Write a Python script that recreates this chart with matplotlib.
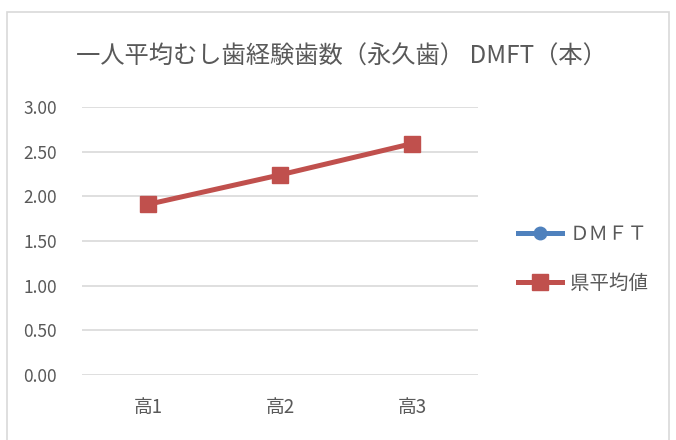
import numpy as np
import matplotlib.pyplot as plt
from matplotlib.patches import Rectangle

plt.rcParams['font.family'] = ['Noto Sans CJK JP', 'DejaVu Sans']

# data
categories = ["高1", "高2", "高3"]
dmft = [np.nan, np.nan, np.nan]          # no values shown in the chart
pref_avg = [1.91, 2.24, 2.59]
y_ticks = [0.0, 0.5, 1.0, 1.5, 2.0, 2.5, 3.0]

title = "一人平均むし歯経験歯数（永久歯） DMFT（本）"
text_color = "#595959"
grid_color = "#d9d9d9"

fig = plt.figure(figsize=(6.76, 4.40), dpi=100)
ax = fig.add_axes([82 / 676, 65 / 440, 396 / 676, 268 / 440])

x = np.arange(len(categories))
ax.plot(x, dmft, color="#4f81bd", lw=3.6, marker="o", ms=9, label="ＤＭＦＴ")
ax.plot(x, pref_avg, color="#c0504d", lw=3.6, marker="s", ms=11, label="県平均値")

ax.set_xlim(-0.5, len(categories) - 0.5)
ax.set_ylim(0, 3)
ax.set_yticks(y_ticks)
ax.set_yticklabels([f"{v:.2f}" for v in y_ticks])
ax.set_xticks(x)
ax.set_xticklabels(categories)
ax.tick_params(length=0, colors=text_color, labelsize=12.5)
ax.tick_params(axis="y", pad=18)
ax.tick_params(axis="x", pad=16, labelsize=13.5)
ax.grid(axis="y", color=grid_color, lw=1.2)
ax.set_axisbelow(True)
for s in ax.spines.values():
    s.set_visible(False)

fig.text(341 / 676, 1 - 57 / 440, title, ha="center", va="center",
         fontsize=17.5, color=text_color)

leg = fig.legend(loc="center left", bbox_to_anchor=(500 / 676, 1 - 259 / 440),
                 frameon=False, fontsize=14, labelspacing=1.45,
                 handlelength=2.3, handletextpad=0.4)
for t in leg.get_texts():
    t.set_color(text_color)

fig.patches.append(Rectangle((7 / 676, -0.05), 662 / 676, 1.05 - 12 / 440,
                             transform=fig.transFigure, fill=False,
                             edgecolor=grid_color, lw=1.2))

fig.savefig("out.png", dpi=100)
